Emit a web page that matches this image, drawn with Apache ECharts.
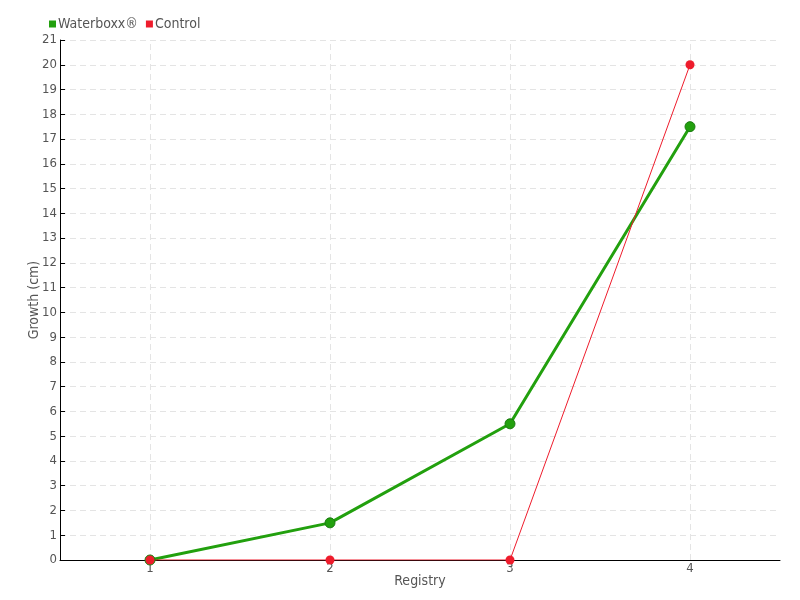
<!DOCTYPE html>
<html>
<head>
<meta charset="utf-8">
<script src="https://cdn.jsdelivr.net/npm/echarts@6/dist/echarts.min.js"></script>
<style>
  html, body { margin: 0; padding: 0; background: #fff; }
  #main { width: 800px; height: 600px; }
</style>
</head>
<body>
<div id="main"></div>
<script>
// data
var registry = ["1", "2", "3", "4"];
var waterboxx = [0, 1.5, 5.5, 17.5];
var control = [0, 0, 0, 20];

var font = "'Liberation Sans Narrow', 'DejaVu Sans Condensed', sans-serif";
var green = "#22a00e";
var red = "#ee1c2c";

var chart = echarts.init(document.getElementById("main"));
chart.setOption({
  animation: false,
  textStyle: { fontFamily: font },
  legend: {
    left: 44,
    top: 12,
    itemWidth: 7,
    itemHeight: 7,
    itemGap: 8,
    icon: "rect",
    itemStyle: { borderWidth: 0 },
    textStyle: { color: "#555", fontSize: 14, fontFamily: font, padding: [0, 0, 0, -3] },
    data: ["Waterboxx®", "Control"]
  },
  grid: { left: 60, right: 20, top: 40, bottom: 40 },
  xAxis: {
    type: "category",
    data: registry,
    name: "Registry",
    nameLocation: "middle",
    nameGap: 14,
    nameMoveOverlap: false,
    nameTextStyle: { color: "#555", fontSize: 14 },
    axisLine: { lineStyle: { color: "#000" } },
    axisTick: { alignWithLabel: true, length: 7, lineStyle: { color: "#666" } },
    axisLabel: { color: "#555", fontSize: 13, margin: 2 },
    splitLine: { show: false }
  },
  yAxis: {
    type: "value",
    min: 0,
    max: 21,
    interval: 1,
    name: "Growth (cm)",
    nameLocation: "middle",
    nameGap: 19,
    nameMoveOverlap: false,
    nameTextStyle: { color: "#555", fontSize: 14 },
    axisLine: { show: true, lineStyle: { color: "#000" } },
    axisTick: { show: true, inside: true, length: 5, lineStyle: { color: "#000" } },
    axisLabel: { color: "#555", fontSize: 13, margin: 3 },
    splitLine: { lineStyle: { color: "#e4e4e4", type: [6, 4] } }
  },
  series: [
    {
      name: "Waterboxx®",
      type: "line",
      data: waterboxx,
      color: green,
      symbol: "circle",
      symbolSize: 10,
      lineStyle: { width: 3, color: green },
      itemStyle: { color: green, borderColor: "#1a7a10", borderWidth: 1 },
      markLine: {
        silent: true,
        symbol: "none",
        label: { show: false },
        lineStyle: { color: "#e4e4e4", type: [6, 4], width: 1 },
        data: registry.map(function (c) { return { xAxis: c }; }),
        z: 0
      }
    },
    {
      name: "Control",
      type: "line",
      data: control,
      color: red,
      symbol: "circle",
      symbolSize: 9,
      lineStyle: { width: 1, color: red },
      itemStyle: { color: red, borderWidth: 0 }
    }
  ]
});
</script>
</body>
</html>
